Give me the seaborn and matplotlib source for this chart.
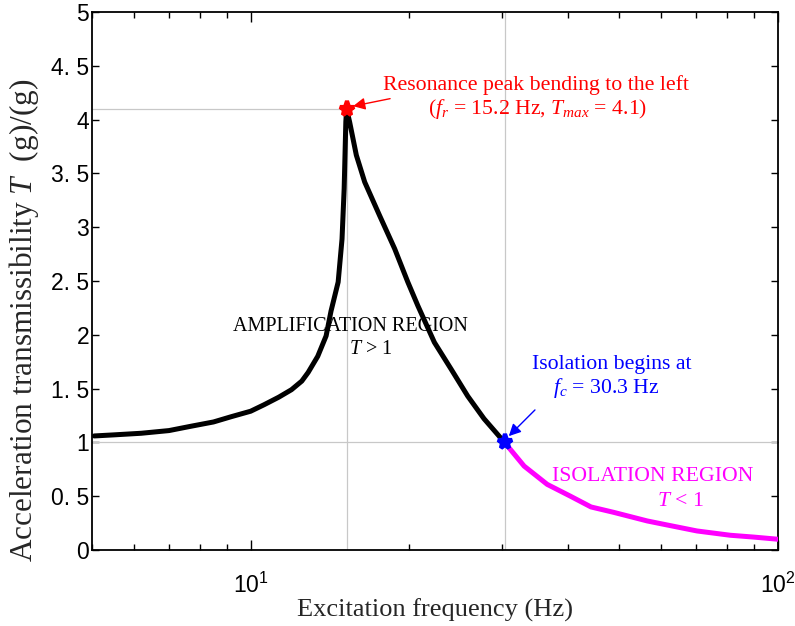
import numpy as np
import pandas as pd
import seaborn as sns
import matplotlib.pyplot as plt
from matplotlib.ticker import FixedLocator, FuncFormatter, NullFormatter, LogLocator

# amplification branch (black)
freq_amp = [5.05, 5.5, 6.2, 7.0, 7.7, 8.5, 9.2, 10.0, 10.6, 11.3, 11.95, 12.5,
            12.85, 13.4, 13.9, 14.2, 14.65, 14.9, 15.04, 15.15, 15.2, 15.4,
            15.86, 16.45, 17.55, 18.75, 19.86, 20.75, 22.3, 24.0, 25.8, 27.7, 30.3]
trans_amp = [1.06, 1.07, 1.085, 1.11, 1.15, 1.19, 1.24, 1.29, 1.35, 1.42, 1.49, 1.57,
             1.65, 1.80, 1.99, 2.22, 2.49, 2.89, 3.36, 3.98, 4.1, 3.98,
             3.67, 3.42, 3.11, 2.80, 2.49, 2.27, 1.93, 1.68, 1.43, 1.22, 1.0]

# isolation branch (magenta)
freq_iso = [30.3, 33.0, 36.5, 40.4, 44.2, 48.8, 56.5, 62.0, 70.2, 81.2, 90.0, 100.0]
trans_iso = [1.0, 0.78, 0.61, 0.50, 0.40, 0.35, 0.27, 0.23, 0.177, 0.137, 0.12, 0.10]

f_res, t_max = 15.2, 4.1
f_c, t_c = 30.3, 1.0

x_lim = (5, 100)
y_ticks = [0, 0.5, 1, 1.5, 2, 2.5, 3, 3.5, 4, 4.5, 5]

sns.set_style("ticks")
plt.rcParams["font.family"] = ["Liberation Sans", "DejaVu Sans"]
plt.rcParams["mathtext.fontset"] = "custom"
plt.rcParams["mathtext.rm"] = "Liberation Serif"
plt.rcParams["mathtext.it"] = "Liberation Serif:italic"
plt.rcParams["xtick.direction"] = "in"
plt.rcParams["ytick.direction"] = "in"

serif = "Liberation Serif"

df_amp = pd.DataFrame({"freq": freq_amp, "T": trans_amp})
df_iso = pd.DataFrame({"freq": freq_iso, "T": trans_iso})

fig = plt.figure(figsize=(7.95, 6.26), dpi=100)
ax = fig.add_axes([0.1157, 0.1214, 0.8629, 0.8594])
ax.set_xscale("log")
ax.set_xlim(*x_lim)
ax.set_ylim(0, 5)

# reference lines
grid_kw = dict(color="#c8c8c8", lw=0.9, zorder=1)
ax.hlines(t_max, x_lim[0], f_res, **grid_kw)
ax.vlines(f_res, 0, t_max, **grid_kw)
ax.hlines(t_c, x_lim[0], x_lim[1], **grid_kw)
ax.vlines(f_c, 0, 5, **grid_kw)

sns.lineplot(data=df_amp, x="freq", y="T", color="black", lw=3.6,
             estimator=None, sort=False, ax=ax, zorder=3)
sns.lineplot(data=df_iso, x="freq", y="T", color="#ff00ff", lw=3.6,
             estimator=None, sort=False, ax=ax, zorder=3)

ax.plot([f_res], [t_max], marker="*", ms=11, mew=3, color="red", zorder=4)
ax.plot([f_c], [t_c], marker="*", ms=11, mew=3, color="blue", zorder=4)

# annotations
ax.annotate("", xy=(15.45, 4.12), xytext=(18.6, 4.20),
            arrowprops=dict(arrowstyle="-|>", color="red", lw=1, mutation_scale=18))
ax.text(34.75, 4.32, "Resonance peak bending to the left", color="red",
        family=serif, fontsize=15.7, ha="center", va="center")
ax.text(35.0, 4.10, r"($f_r$ = 15.2 Hz, $T_{max}$ = 4.1)", color="red",
        family=serif, fontsize=15.7, ha="center", va="center")

ax.text(15.43, 2.08, "AMPLIFICATION REGION", color="black",
        family=serif, fontsize=14.5, ha="center", va="center")
ax.text(16.9, 1.86, r"$T$ > 1", color="black",
        family=serif, fontsize=14.5, ha="center", va="center")

ax.annotate("", xy=(30.6, 1.04), xytext=(34.9, 1.32),
            arrowprops=dict(arrowstyle="-|>", color="blue", lw=1, mutation_scale=18))
ax.text(48.4, 1.72, "Isolation begins at", color="blue",
        family=serif, fontsize=15.7, ha="center", va="center")
ax.text(47.2, 1.51, r"$f_c$ = 30.3 Hz", color="blue",
        family=serif, fontsize=15.7, ha="center", va="center")

ax.text(57.9, 0.68, "ISOLATION REGION", color="#ff00ff",
        family=serif, fontsize=15.7, ha="center", va="center")
ax.text(65.2, 0.45, r"$T$ < 1", color="#ff00ff",
        family=serif, fontsize=15.7, ha="center", va="center")

# axes styling
ax.set_xlabel("Excitation frequency (Hz)", family=serif, fontsize=19, labelpad=1)
ax.set_ylabel(r"Acceleration transmissibility $T$  (g)/(g)", family=serif, fontsize=22.5)
ax.yaxis.set_label_coords(-0.074, 0.4275)

ax.yaxis.set_major_locator(FixedLocator(y_ticks))
ax.yaxis.set_major_formatter(FuncFormatter(lambda v, p: f"{v:g}".replace(".", ". ")))
ax.xaxis.set_minor_locator(LogLocator(base=10, subs=range(2, 10)))
ax.xaxis.set_minor_formatter(NullFormatter())
ax.tick_params(which="both", top=True, right=True, labelsize=16.5, colors="black")
ax.tick_params(axis="y", pad=2, length=5, width=1)
ax.tick_params(axis="x", which="major", length=7, width=1, pad=16)
ax.tick_params(axis="x", which="minor", length=4, width=1)
for s in ax.spines.values():
    s.set_linewidth(1.3)
    s.set_color("black")

fig.savefig("out.png", dpi=100)
